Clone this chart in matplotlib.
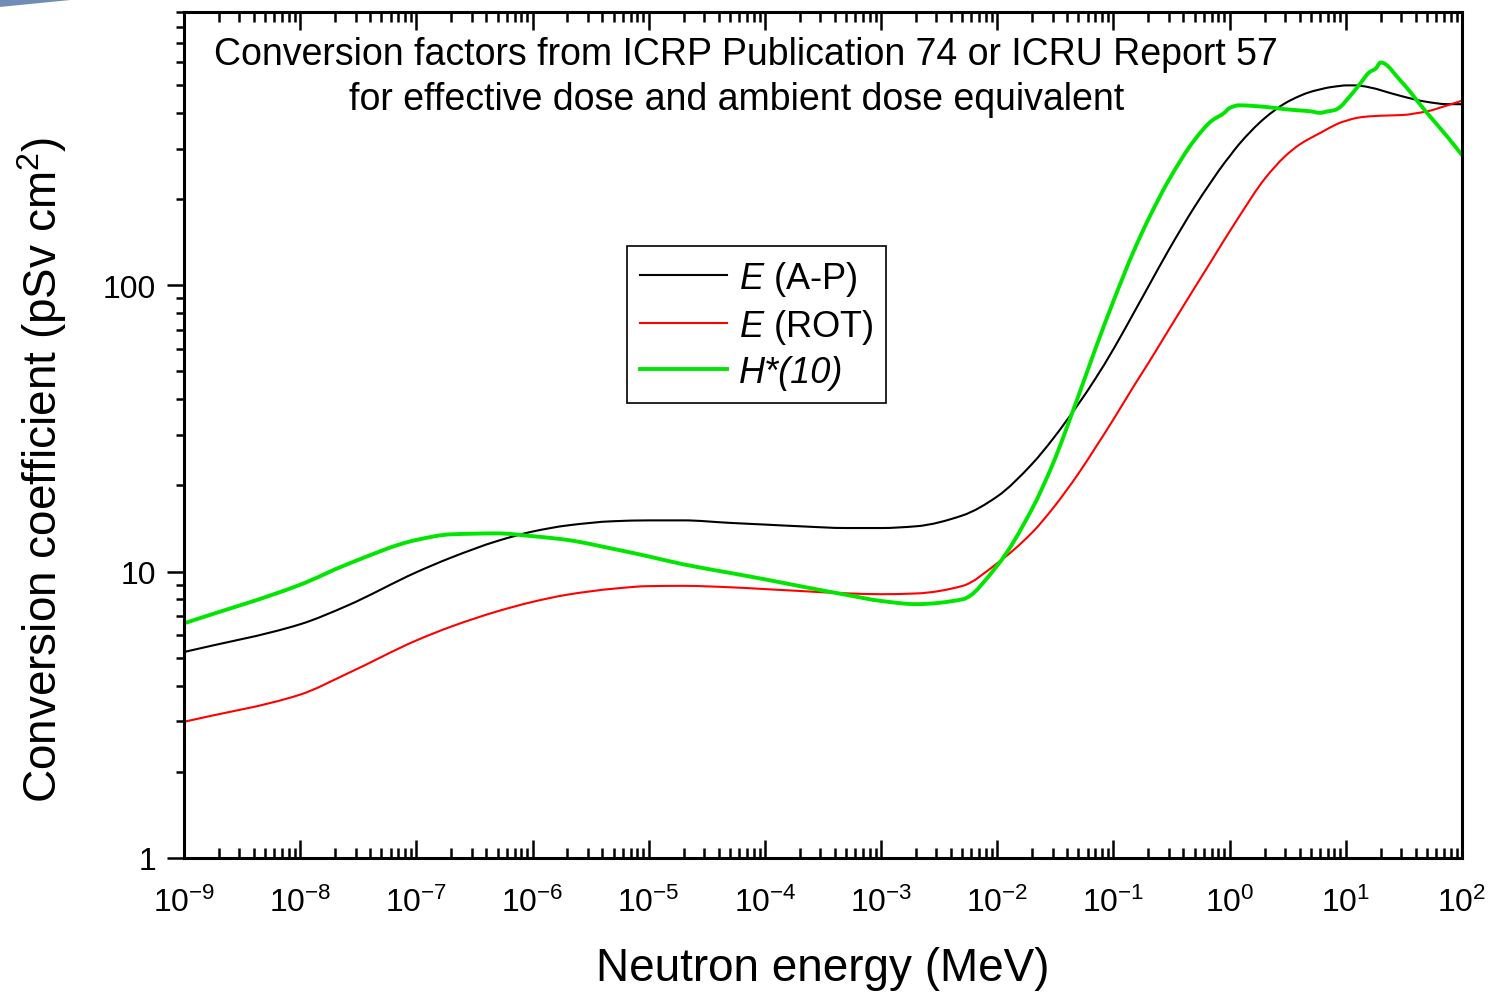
import matplotlib
matplotlib.use("Agg")
import numpy as np
from matplotlib import pyplot as plt
from matplotlib.lines import Line2D
from matplotlib.patches import PathPatch, Polygon
from matplotlib.path import Path
from matplotlib.ticker import LogLocator, NullFormatter

# neutron energy grid (MeV)
energy = [1e-9, 1e-8, 2.53e-8, 1e-7, 2e-7, 5e-7, 1e-6, 2e-6, 5e-6, 1e-5,
          2e-5, 5e-5, 1e-4, 2e-4, 5e-4, 1e-3, 2e-3, 5e-3, 1e-2, 2e-2,
          3e-2, 5e-2, 7e-2, 0.1, 0.15, 0.2, 0.3, 0.5, 0.7, 0.9,
          1.0, 1.2, 2.0, 3.0, 4.0, 5.0, 6.0, 7.0, 8.0, 9.0,
          10.0, 12.0, 14.0, 15.0, 16.0, 18.0, 20.0, 30.0, 50.0, 75.0, 100.0]

# effective dose, anterior-posterior irradiation (pSv cm2)
e_ap = [5.24, 6.55, 7.60, 9.95, 11.2, 12.8, 13.8, 14.5, 15.0, 15.1,
        15.1, 14.8, 14.6, 14.4, 14.2, 14.2, 14.4, 15.7, 18.3, 23.8,
        29.0, 38.5, 47.2, 59.8, 80.2, 99.0, 133, 188, 231, 267,
        282, 310, 383, 432, 458, 474, 483, 490, 494, 497,
        499, 499, 496, 494, 491, 486, 480, 458, 437, 429, 429]

# effective dose, rotational irradiation (pSv cm2)
e_rot = [2.99, 3.72, 4.40, 5.75, 6.43, 7.27, 7.84, 8.31, 8.72, 8.90,
         8.92, 8.82, 8.69, 8.56, 8.40, 8.34, 8.39, 8.91, 10.7, 13.7,
         16.6, 22.0, 27.1, 34.0, 44.5, 53.5, 70.0, 98.0, 122, 144,
         154, 173, 235, 282, 310, 327, 340, 352, 362, 370,
         375, 383, 387, 388, 389, 390, 391, 393, 405, 425, 441]

# ambient dose equivalent H*(10) (pSv cm2)
h_star = [6.6, 9.0, 10.6, 12.9, 13.5, 13.6, 13.3, 12.9, 12.0, 11.3,
          10.6, 9.9, 9.4, 8.9, 8.3, 7.9, 7.7, 8.0, 10.5, 16.6,
          23.7, 41.1, 60.0, 88.0, 132, 170, 233, 322, 375, 400,
          416, 425, 420, 412, 408, 405, 400, 405, 409, 420,
          440, 480, 520, 540, 555, 570, 600, 515, 400, 330, 285]

title_lines = ["Conversion factors from ICRP Publication 74 or ICRU Report 57",
               "for effective dose and ambient dose equivalent"]


def smooth_path(x, y):
    """Cubic Bezier path through the points, built in log-log space
    with monotone (Fritsch-Carlson) tangents."""
    lx = np.log10(x)
    ly = np.log10(y)
    h = np.diff(lx)
    d = np.diff(ly) / h
    m = np.empty_like(lx)
    m[0] = d[0]
    m[-1] = d[-1]
    for k in range(1, len(lx) - 1):
        if d[k - 1] * d[k] <= 0:
            m[k] = 0.0
        else:
            w1 = 2 * h[k] + h[k - 1]
            w2 = h[k] + 2 * h[k - 1]
            m[k] = (w1 + w2) / (w1 / d[k - 1] + w2 / d[k])

    vertices = [(lx[0], ly[0])]
    codes = [Path.MOVETO]
    for k in range(len(h)):
        vertices.append((lx[k] + h[k] / 3, ly[k] + m[k] * h[k] / 3))
        vertices.append((lx[k + 1] - h[k] / 3, ly[k + 1] - m[k + 1] * h[k] / 3))
        vertices.append((lx[k + 1], ly[k + 1]))
        codes += [Path.CURVE4] * 3
    return Path(10 ** np.array(vertices), codes)


def main():
    plt.rcParams["font.family"] = ["Liberation Sans", "DejaVu Sans"]
    plt.rcParams["mathtext.fontset"] = "custom"
    plt.rcParams["mathtext.rm"] = "Liberation Sans"
    plt.rcParams["mathtext.it"] = "Liberation Sans:italic"
    plt.rcParams["axes.unicode_minus"] = False

    figure = plt.figure(figsize=(14.91, 9.95), dpi=100)
    axis = figure.add_axes([0.1234, 0.1367, 0.8571, 0.8502])

    axis.set_xscale("log")
    axis.set_yscale("log")

    series = [
        (e_ap, "black", 1.5, "$\\it{E}$ (A-P)"),
        (e_rot, "#ff0000", 1.5, "$\\it{E}$ (ROT)"),
        (h_star, "#00e600", 2.8, "H*(10)"),
    ]
    handles = []
    for values, color, width, label in series:
        axis.add_patch(PathPatch(smooth_path(energy, values), facecolor="none",
                                 edgecolor=color, linewidth=width,
                                 capstyle="round", joinstyle="round"))
        handles.append(Line2D([], [], color=color, linewidth=width, label=label))

    axis.set_xlim(1e-9, 1e2)
    axis.set_ylim(1, 900)

    axis.xaxis.set_major_locator(LogLocator(base=10, numticks=20))
    axis.xaxis.set_minor_locator(LogLocator(base=10, subs=range(2, 10), numticks=20))
    axis.xaxis.set_minor_formatter(NullFormatter())
    axis.set_yticks([1, 10, 100])
    axis.set_yticklabels(["1", "10", "100"])
    axis.yaxis.set_minor_locator(LogLocator(base=10, subs=range(2, 10), numticks=20))
    axis.yaxis.set_minor_formatter(NullFormatter())

    axis.tick_params(axis="x", which="both", direction="in", top=True, bottom=True,
                     width=1.8, labelsize=23, pad=21)
    axis.tick_params(axis="x", which="major", length=13)
    axis.tick_params(axis="x", which="minor", length=7)
    axis.tick_params(axis="y", which="both", direction="out", left=True, right=False,
                     width=1.8, labelsize=23, pad=8)
    axis.tick_params(axis="y", which="major", length=12)
    axis.tick_params(axis="y", which="minor", length=6)
    for spine in axis.spines.values():
        spine.set_linewidth(2.2)

    axis.set_xlabel("Neutron energy (MeV)", fontsize=33, labelpad=20)
    axis.set_ylabel("Conversion coefficient (pSv cm$^2$)", fontsize=33)
    axis.yaxis.set_label_coords(-0.090, 0.46)

    axis.text(0.4397, 0.950, title_lines[0], transform=axis.transAxes,
              ha="center", va="center", fontsize=27)
    axis.text(0.4327, 0.897, title_lines[1], transform=axis.transAxes,
              ha="center", va="center", fontsize=27)

    legend = axis.legend(handles=handles, loc="upper left",
                         bbox_to_anchor=(0.3466, 0.7235), borderaxespad=0,
                         fontsize=26, fancybox=False, edgecolor="black",
                         framealpha=1, handlelength=2.4, labelspacing=0.25,
                         handletextpad=0.33, borderpad=0.36)
    legend.get_frame().set_linewidth(1.2)
    legend.get_texts()[2].set_fontstyle("italic")

    # blue streak in the upper-left corner
    figure.patches.append(Polygon([(0, 0.992), (0.054, 1.0), (0, 1.0)],
                                  closed=True, transform=figure.transFigure,
                                  facecolor="#4f6fa6", edgecolor="none", alpha=0.8))

    figure.savefig("out.png", dpi=100)


if __name__ == '__main__':
    main()
